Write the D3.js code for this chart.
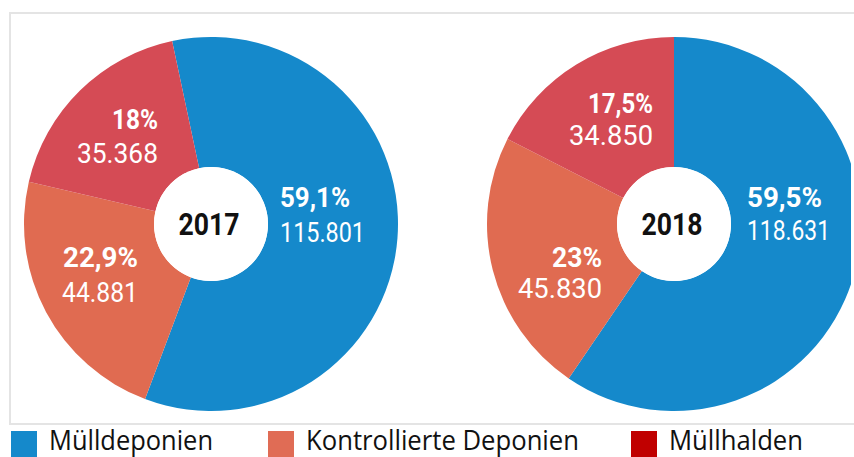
<!DOCTYPE html>
<html>
<head>
<meta charset="utf-8">
<script src="https://cdn.jsdelivr.net/npm/d3@7"></script>
<style>
  html, body { margin: 0; padding: 0; background: #ffffff; }
  svg { display: block; }
</style>
</head>
<body>
<svg id="chart" width="854" height="457"></svg>
<script>
// ---- data ----
const categories = ["Mülldeponien", "Kontrollierte Deponien", "Müllhalden"];
const years = ["2017", "2018"];
const values2017 = [115801, 44881, 35368];
const values2018 = [118631, 45830, 34850];
const percentLabels2017 = ["59,1%", "22,9%", "18%"];
const percentLabels2018 = ["59,5%", "23%", "17,5%"];
const valueLabels2017 = ["115.801", "44.881", "35.368"];
const valueLabels2018 = ["118.631", "45.830", "34.850"];

// ---- styles / layout ----
const sliceColors = ["#1589CB", "#E06B51", "#D54B55"];
const legendColors = ["#1589CB", "#E06C55", "#C00000"];
const W = 854, H = 457;
const outerR = 187, innerR = 57;
const pies = [
  { cx: 211, cy: 224, start: -12, values: values2017, pct: percentLabels2017, val: valueLabels2017, year: years[0],
    lab: [ {a:"start", dx:69, p:-17, v:18, pw:70, vw:85},
           {a:"end", dx:-73, p:43, v:78, pw:75, vw:76},
           {a:"end", dx:-53, p:-95, v:-61, pw:46, vw:81} ] },
  { cx: 674, cy: 224, start: 0, values: values2018, pct: percentLabels2018, val: valueLabels2018, year: years[1],
    lab: [ {a:"start", dx:73, p:-17, v:16, pw:75, vw:83},
           {a:"end", dx:-72, p:43, v:74, pw:50, vw:84},
           {a:"end", dx:-21, p:-111, v:-79, pw:65, vw:84} ] }
];

const svg = d3.select("#chart");

// frame
svg.append("rect")
  .attr("x", 10).attr("y", 13)
  .attr("width", 860).attr("height", 411)
  .attr("fill", "none")
  .attr("stroke", "#e4e4e4")
  .attr("stroke-width", 2);

const color = d3.scaleOrdinal().domain(categories).range(sliceColors);
const legendColor = d3.scaleOrdinal().domain(categories).range(legendColors);
const arc = d3.arc().innerRadius(innerR).outerRadius(outerR);
svg.append("clipPath").attr("id", "frameClip")
  .append("rect").attr("x", 0).attr("y", 0).attr("width", 851).attr("height", H);

const chartLayer = svg.append("g").attr("clip-path", "url(#frameClip)");

pies.forEach(p => {
  const start = p.start * Math.PI / 180;
  const pie = d3.pie().sort(null).startAngle(start).endAngle(start + 2 * Math.PI);
  const data = pie(p.values).map((d, i) => Object.assign(d, { cat: categories[i] }));
  const g = chartLayer.append("g").attr("transform", `translate(${p.cx},${p.cy})`);
  g.selectAll("path.slice").data(data).enter().append("path")
    .attr("class", "slice")
    .attr("d", arc)
    .attr("fill", d => color(d.cat));
  g.append("circle").attr("r", innerR).attr("fill", "#ffffff");

  // labels
  data.forEach((d, i) => {
    const L = p.lab[i];
    g.append("text")
      .attr("x", L.dx).attr("y", L.p)
      .attr("text-anchor", L.a)
      .attr("font-family", "Roboto, sans-serif")
      .attr("font-weight", "bold")
      .attr("font-size", 27)
      .attr("fill", "#ffffff")
      .attr("textLength", L.pw)
      .attr("lengthAdjust", "spacingAndGlyphs")
      .text(p.pct[i]);
    g.append("text")
      .attr("x", L.dx).attr("y", L.v)
      .attr("text-anchor", L.a)
      .attr("font-family", "Roboto, sans-serif")
      .attr("font-size", 28)
      .attr("fill", "#ffffff")
      .attr("textLength", L.vw)
      .attr("lengthAdjust", "spacingAndGlyphs")
      .text(p.val[i]);
  });
  g.append("text")
    .attr("x", -2).attr("y", 11)
    .attr("text-anchor", "middle")
    .attr("font-family", "Roboto, sans-serif")
    .attr("font-weight", "bold")
    .attr("font-size", 31)
    .attr("fill", "#111111")
    .attr("textLength", 61)
    .attr("lengthAdjust", "spacingAndGlyphs")
    .text(p.year);
});

// legend
const legendX = [11, 268, 631];
const legendW = [164, 273, 134];
const legend = svg.append("g");
categories.forEach((c, i) => {
  legend.append("rect")
    .attr("x", legendX[i]).attr("y", 431)
    .attr("width", 26).attr("height", 26)
    .attr("fill", legendColor(c));
  legend.append("text")
    .attr("x", legendX[i] + 38).attr("y", 450)
    .attr("font-family", "'Open Sans', sans-serif")
    .attr("font-size", 27)
    .attr("fill", "#111111")
    .attr("textLength", legendW[i])
    .attr("lengthAdjust", "spacingAndGlyphs")
    .text(c);
});
</script>
</body>
</html>
